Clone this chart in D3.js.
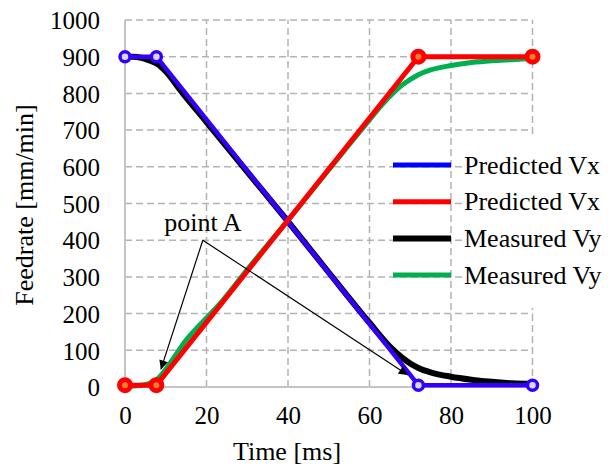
<!DOCTYPE html>
<html>
<head>
<meta charset="utf-8">
<script src="https://cdn.jsdelivr.net/npm/d3@7"></script>
<style>
  html, body { margin: 0; padding: 0; background: #fff; }
</style>
</head>
<body>
<svg id="chart" width="608" height="468"></svg>
<script>
// Feedrate profiles: predicted (piecewise) and measured axis velocities
const predVxT = [0, 7.7, 72, 100];
const predVxV = [900, 900, 5, 5];
const predVyT = [0, 7.7, 72, 100];
const predVyV = [5, 5, 900, 900];

const measXT = [0, 2, 4, 6, 8, 10, 14, 20, 30, 40, 50, 60, 65, 68, 70, 72, 75, 80, 85, 90, 95, 100];
const measXV = [900, 900, 897, 890, 880, 860, 803, 722, 586, 451, 312, 175, 110, 80, 64, 52, 40, 28, 20, 14, 10, 8];

const measYT = [0, 4, 6, 8, 10, 12, 15, 18, 20, 24, 30, 40, 50, 60, 63, 66, 68, 70, 72, 75, 80, 85, 90, 95, 100];
const measYV = [2, 5, 10, 22, 48, 80, 128, 165, 188, 236, 320, 454, 592, 728, 768, 803, 823, 838, 851, 864, 876, 884, 889, 892, 895];

const xTicks = [0, 20, 40, 60, 80, 100];
const yTicks = [0, 100, 200, 300, 400, 500, 600, 700, 800, 900, 1000];

const legendLabels = ["Predicted Vx", "Predicted Vx", "Measured Vy", "Measured Vy"];
const legendColors = ["#0000ff", "#ff0000", "#000000", "#00b050"];
const legendWidths = [5, 5, 6, 5];

// Annotation: label position and the two arrow targets (data units)
const noteLabel = "point A";
const noteApex = [19.1, 400];
const noteTargets = [[8.8, 48], [69.4, 33]];

const FONT = "Liberation Serif";
const svg = d3.select("#chart");
const tickFont = 25;
const font = 26;

const x = d3.scaleLinear().domain([0, 100]).range([125, 532.5]);
const y = d3.scaleLinear().domain([0, 1000]).range([387, 20]);

// gridlines
const grid = svg.append("g")
  .attr("stroke", "#b3b3b3").attr("stroke-width", 1.5).attr("stroke-dasharray", "7,4");
grid.selectAll("line.h").data(yTicks.filter(d => d > 0)).join("line")
  .attr("class", "h")
  .attr("x1", x(0)).attr("x2", x(100))
  .attr("y1", d => y(d)).attr("y2", d => y(d));
grid.selectAll("line.v").data(xTicks.filter(d => d > 0)).join("line")
  .attr("class", "v")
  .attr("x1", d => x(d)).attr("x2", d => x(d))
  .attr("y1", y(0)).attr("y2", y(1000));

// axis lines
svg.append("line").attr("x1", x(0)).attr("x2", x(0)).attr("y1", y(0)).attr("y2", y(1000))
  .attr("stroke", "#c4c4c4").attr("stroke-width", 2);
svg.append("line").attr("x1", x(0)).attr("x2", x(100)).attr("y1", y(0)).attr("y2", y(0))
  .attr("stroke", "#c4c4c4").attr("stroke-width", 2);

// tick labels via d3 axes
const yAxis = svg.append("g").attr("transform", `translate(${x(0)},0)`)
  .call(d3.axisLeft(y).tickValues(yTicks).tickSize(0).tickPadding(25).tickFormat(d3.format("d")));
const xAxis = svg.append("g").attr("transform", `translate(0,${y(0)})`)
  .call(d3.axisBottom(x).tickValues(xTicks).tickSize(0).tickPadding(24).tickFormat(d3.format("d")));
[yAxis, xAxis].forEach(a => {
  a.attr("font-family", FONT).attr("font-size", tickFont);
  a.select(".domain").remove();
  a.selectAll("text").attr("fill", "#000");
});
yAxis.selectAll("text").attr("dy", "0.35em");
xAxis.selectAll("text").attr("dy", "0.5em");

// axis titles
svg.append("text").attr("x", 287).attr("y", 460).attr("text-anchor", "middle")
  .attr("font-family", FONT).attr("font-size", font).text("Time [ms]");
svg.append("text").attr("transform", "translate(33,205) rotate(-90)").attr("text-anchor", "middle")
  .attr("font-family", FONT).attr("font-size", font).text("Feedrate [mm/min]");

// series
const line = d3.line().x(d => x(d[0])).y(d => y(d[1]));
const zip = (t, v) => t.map((d, i) => [d, v[i]]);
const plot = svg.append("g");

plot.append("path").datum(zip(measXT, measXV)).attr("d", line.curve(d3.curveMonotoneX))
  .attr("fill", "none").attr("stroke", "#000").attr("stroke-width", 6).attr("stroke-linejoin", "round");
plot.append("path").datum(zip(measYT, measYV)).attr("d", line.curve(d3.curveMonotoneX))
  .attr("fill", "none").attr("stroke", "#00b050").attr("stroke-width", 5).attr("stroke-linejoin", "round");

line.curve(d3.curveLinear);
plot.append("path").datum(zip(predVxT, predVxV)).attr("d", line)
  .attr("fill", "none").attr("stroke", "#3300ff").attr("stroke-width", 4.5).attr("stroke-linejoin", "round");
plot.append("path").datum(zip(predVyT, predVyV)).attr("d", line)
  .attr("fill", "none").attr("stroke", "#ff0000").attr("stroke-width", 5).attr("stroke-linejoin", "round");

plot.selectAll("circle.bx").data(zip(predVxT, predVxV)).join("circle")
  .attr("class", "bx").attr("cx", d => x(d[0])).attr("cy", d => y(d[1])).attr("r", 5)
  .attr("fill", "#d9d9d9").attr("stroke", "#3300ff").attr("stroke-width", 3.5);
plot.selectAll("circle.ry").data(zip(predVyT, predVyV)).join("circle")
  .attr("class", "ry").attr("cx", d => x(d[0])).attr("cy", d => y(d[1])).attr("r", 5.5)
  .attr("fill", "#ed7d31").attr("stroke", "#ff0000").attr("stroke-width", 5);

// legend
svg.append("rect").attr("x", 462).attr("y", 134).attr("width", 146).attr("height", 174).attr("fill", "#fff");
const lg = svg.append("g");
legendLabels.forEach((lab, i) => {
  const ly = 165 + i * 36.7;
  lg.append("line").attr("x1", 393).attr("x2", 451).attr("y1", ly).attr("y2", ly)
    .attr("stroke", legendColors[i]).attr("stroke-width", legendWidths[i]);
  lg.append("text").attr("x", 464).attr("y", ly).attr("dy", "0.33em")
    .attr("font-family", FONT).attr("font-size", font).text(lab);
});

// annotation with arrows
svg.append("defs").append("marker")
  .attr("id", "arr").attr("viewBox", "0 0 10 10").attr("refX", 10).attr("refY", 5)
  .attr("markerWidth", 12).attr("markerHeight", 9).attr("markerUnits", "userSpaceOnUse")
  .attr("orient", "auto")
  .append("path").attr("d", "M0,0 L10,5 L0,10 Z").attr("fill", "#000");
noteTargets.forEach(t => {
  svg.append("line")
    .attr("x1", x(noteApex[0])).attr("y1", y(noteApex[1]))
    .attr("x2", x(t[0])).attr("y2", y(t[1]))
    .attr("stroke", "#000").attr("stroke-width", 1.2).attr("marker-end", "url(#arr)");
});
svg.append("text").attr("x", x(noteApex[0])).attr("y", y(noteApex[1]) - 9)
  .attr("text-anchor", "middle").attr("font-family", FONT).attr("font-size", font).text(noteLabel);
</script>
</body>
</html>
